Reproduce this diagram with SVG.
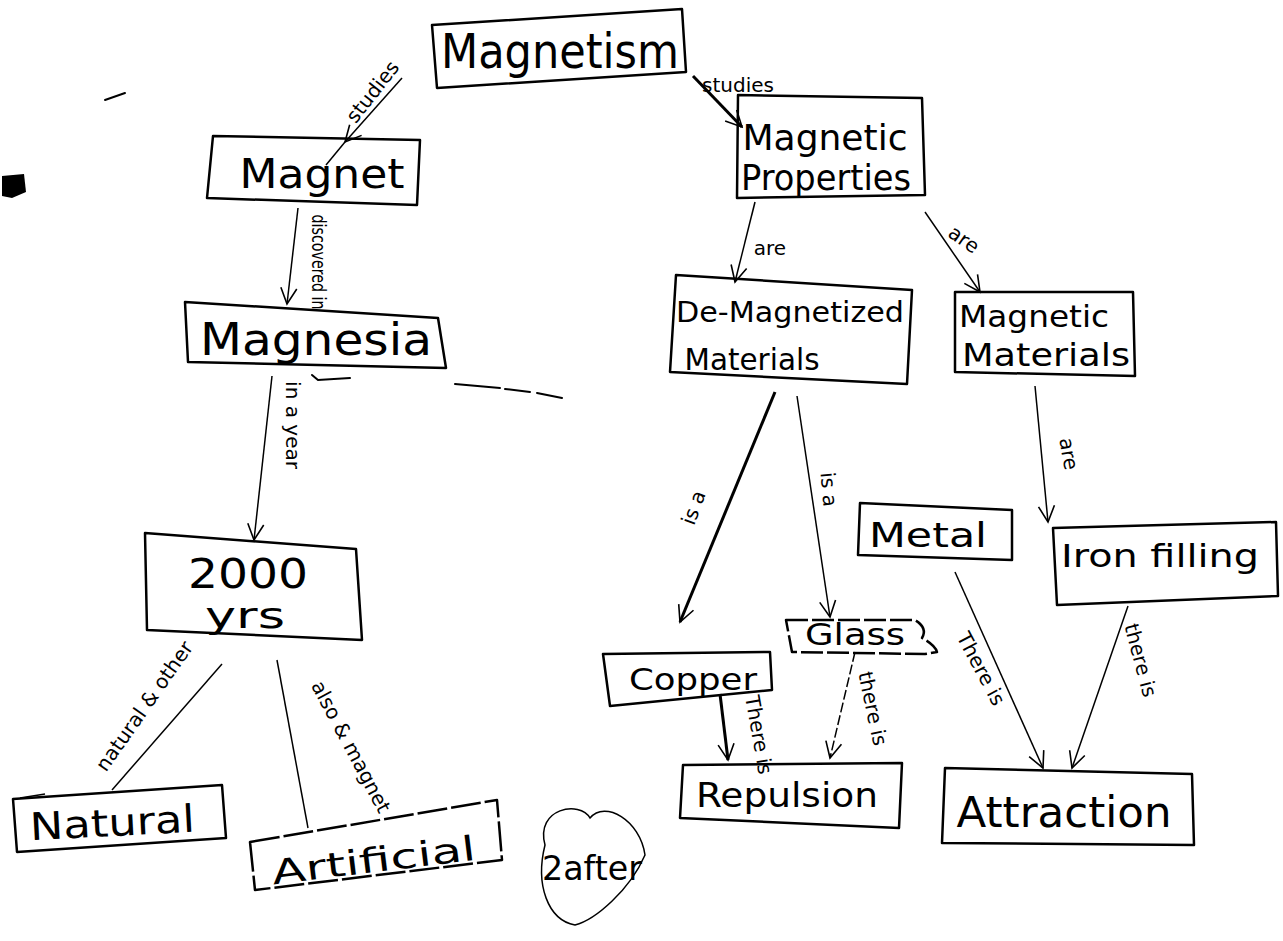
<svg xmlns="http://www.w3.org/2000/svg" width="1283" height="941" viewBox="0 0 1283 941">
  <style>
    .box { fill: none; stroke: #000; stroke-width: 2.5; stroke-linejoin: round; }
    .lbl { font-family: "DejaVu Sans", "Liberation Sans", sans-serif; fill: #000; text-anchor: middle; }
    .edge { font-family: "DejaVu Sans", "Liberation Sans", sans-serif; fill: #000; font-size: 20px; text-anchor: middle; }
    .con { fill: none; stroke: #000; stroke-width: 1.5; }
    .thick { stroke-width: 3; }
    .mark { fill: none; stroke: #000; stroke-width: 2; stroke-linecap: round; }
  </style>
  <defs>
    <marker id="arrow" viewBox="0 0 20 20" refX="18" refY="10" markerWidth="20" markerHeight="20" markerUnits="userSpaceOnUse" orient="auto">
      <path d="M2,2 L18,10 L2,18" fill="none" stroke="#000" stroke-width="1.6"/>
    </marker>
  </defs>
  <rect width="1283" height="941" fill="#fff"/>

  <!-- stray pen marks -->
  <g id="marks">
    <path class="mark" d="M105,100 L125,93"/>
    <path d="M2,176 L24,174 L26,192 L12,198 L2,196 Z" fill="#000"/>
    <path class="mark" d="M455,384 L500,388 M505,389 L530,392 M537,393 L562,398" stroke-width="2.5"/>
    <path class="mark" d="M312,375 L318,380 L350,378" stroke-width="3"/>
  </g>

  <!-- connectors -->
  <g id="connectors">
    <path class="con" d="M402,78 L345,142" marker-end="url(#arrow)"/>
    <path class="con" d="M345,142 L326,165"/>
    <path class="con thick" d="M693,76 L742,127" marker-end="url(#arrow)"/>
    <path class="con" d="M298,208 L287,304" marker-end="url(#arrow)"/>
    <path class="con" d="M272,376 L254,540" marker-end="url(#arrow)"/>
    <path class="con" d="M222,664 L112,790"/>
    <path class="con" d="M45,794 L20,798"/>
    <path class="con" d="M277,660 L308,828"/>
    <path class="con" d="M755,202 L735,282" marker-end="url(#arrow)"/>
    <path class="con" d="M925,212 L980,292" marker-end="url(#arrow)"/>
    <path class="con thick" d="M775,392 L680,622" marker-end="url(#arrow)"/>
    <path class="con" d="M797,396 L830,617" marker-end="url(#arrow)"/>
    <path class="con" d="M1035,386 L1048,522" marker-end="url(#arrow)"/>
    <path class="con thick" d="M720,694 L728,760" marker-end="url(#arrow)"/>
    <path class="con" d="M855,652 L830,758" stroke-dasharray="10 3" marker-end="url(#arrow)"/>
    <path class="con" d="M955,572 L1043,768" marker-end="url(#arrow)"/>
    <path class="con" d="M1128,606 L1072,768" marker-end="url(#arrow)"/>
  </g>

  <!-- connector labels -->
  <g id="edge-labels">
    <text class="edge" transform="translate(378,96) rotate(-52)">studies</text>
    <text class="edge" x="738" y="92">studies</text>
    <text class="edge" transform="translate(312,262) rotate(90)" font-size="16" textLength="95" lengthAdjust="spacingAndGlyphs">discovered in</text>
    <text class="edge" transform="translate(286,425) rotate(90)">in a year</text>
    <text class="edge" transform="translate(150,710) rotate(-55)">natural &amp; other</text>
    <text class="edge" transform="translate(345,750) rotate(62)">also &amp; magnet</text>
    <text class="edge" x="770" y="255">are</text>
    <text class="edge" transform="translate(960,245) rotate(35)">are</text>
    <text class="edge" transform="translate(700,510) rotate(-70)">is a</text>
    <text class="edge" transform="translate(822,490) rotate(85)">is a</text>
    <text class="edge" transform="translate(1062,455) rotate(80)">are</text>
    <text class="edge" transform="translate(752,736) rotate(80)" font-size="18">There is</text>
    <text class="edge" transform="translate(866,710) rotate(78)">there is</text>
    <text class="edge" transform="translate(975,672) rotate(62)">There is</text>
    <text class="edge" transform="translate(1134,662) rotate(75)">there is</text>
  </g>

  <!-- nodes -->
  <g id="node-magnetism">
    <polygon class="box" points="432,25 682,9 686,72 437,88"/>
    <text class="lbl" x="560" y="68" font-size="48" textLength="238" lengthAdjust="spacingAndGlyphs">Magnetism</text>
  </g>
  <g id="node-magnet">
    <polygon class="box" points="213,136 420,140 417,205 207,198"/>
    <text class="lbl" x="322" y="188" font-size="40" textLength="165" lengthAdjust="spacingAndGlyphs">Magnet</text>
  </g>
  <g id="node-magnesia">
    <polygon class="box" points="185,302 438,318 446,368 188,362"/>
    <text class="lbl" x="316" y="355" font-size="44" textLength="232" lengthAdjust="spacingAndGlyphs">Magnesia</text>
  </g>
  <g id="node-2000yrs">
    <polygon class="box" points="145,533 356,549 362,640 147,630"/>
    <text class="lbl" x="248" y="588" font-size="40" textLength="120" lengthAdjust="spacingAndGlyphs">2000</text>
    <text class="lbl" x="245" y="628" font-size="36" textLength="80" lengthAdjust="spacingAndGlyphs">yrs</text>
  </g>
  <g id="node-natural">
    <polygon class="box" points="13,799 222,785 226,838 17,852"/>
    <text class="lbl" x="113" y="836" font-size="38" textLength="165" lengthAdjust="spacingAndGlyphs" transform="rotate(-3 113 836)">Natural</text>
  </g>
  <g id="node-artificial">
    <polygon class="box" points="250,842 497,800 502,860 255,890" stroke-dasharray="30 4"/>
    <text class="lbl" x="375" y="872" font-size="34" textLength="205" lengthAdjust="spacingAndGlyphs" transform="rotate(-7 375 872)">Artificial</text>
  </g>
  <g id="node-magnetic-properties">
    <polygon class="box" points="738,95 922,98 925,195 737,198" stroke-width="1.8"/>
    <text class="lbl" x="825" y="150" font-size="36" textLength="165" lengthAdjust="spacingAndGlyphs">Magnetic</text>
    <text class="lbl" x="826" y="190" font-size="36" textLength="170" lengthAdjust="spacingAndGlyphs">Properties</text>
  </g>
  <g id="node-demagnetized">
    <polygon class="box" points="676,275 912,290 907,384 670,372" stroke-width="2"/>
    <text class="lbl" x="790" y="322" font-size="28" textLength="228" lengthAdjust="spacingAndGlyphs">De-Magnetized</text>
    <text class="lbl" x="752" y="370" font-size="30" textLength="135" lengthAdjust="spacingAndGlyphs">Materials</text>
  </g>
  <g id="node-magnetic-materials">
    <polygon class="box" points="955,292 1133,292 1135,376 955,372" stroke-width="3"/>
    <text class="lbl" x="1034" y="327" font-size="30" textLength="150" lengthAdjust="spacingAndGlyphs">Magnetic</text>
    <text class="lbl" x="1046" y="366" font-size="32" textLength="168" lengthAdjust="spacingAndGlyphs">Materials</text>
  </g>
  <g id="node-metal">
    <polygon class="box" points="860,503 1012,510 1012,560 858,555" stroke-width="2"/>
    <text class="lbl" x="928" y="547" font-size="34" textLength="118" lengthAdjust="spacingAndGlyphs">Metal</text>
  </g>
  <g id="node-iron-filling">
    <polygon class="box" points="1053,528 1276,522 1278,596 1057,605" stroke-width="2"/>
    <text class="lbl" x="1160" y="567" font-size="32" textLength="198" lengthAdjust="spacingAndGlyphs">Iron filling</text>
  </g>
  <g id="node-copper">
    <polygon class="box" points="603,654 770,652 772,690 610,706" stroke-width="2"/>
    <text class="lbl" x="693" y="690" font-size="30" textLength="128" lengthAdjust="spacingAndGlyphs">Copper</text>
  </g>
  <g id="node-glass">
    <path class="box" d="M786,620 L915,620 Q928,628 922,638 Q935,645 937,652 L925,654 L792,652 Z" stroke-width="1.8" stroke-dasharray="22 4"/>
    <text class="lbl" x="855" y="645" font-size="30" textLength="100" lengthAdjust="spacingAndGlyphs">Glass</text>
  </g>
  <g id="node-repulsion">
    <polygon class="box" points="683,765 902,763 899,828 680,818" stroke-width="3"/>
    <text class="lbl" x="787" y="807" font-size="34" textLength="182" lengthAdjust="spacingAndGlyphs">Repulsion</text>
  </g>
  <g id="node-attraction">
    <polygon class="box" points="945,768 1192,774 1194,845 942,843" stroke-width="3"/>
    <text class="lbl" x="1064" y="827" font-size="42" textLength="215" lengthAdjust="spacingAndGlyphs">Attraction</text>
  </g>
  <g id="note-2after">
    <path class="con" d="M545,845 C535,808 580,800 590,818 C605,800 640,820 645,855 C630,890 595,920 575,925 C548,920 535,885 545,845 Z"/>
    <text class="lbl" x="592" y="880" font-size="34" textLength="100" lengthAdjust="spacingAndGlyphs">2after</text>
  </g>
</svg>
